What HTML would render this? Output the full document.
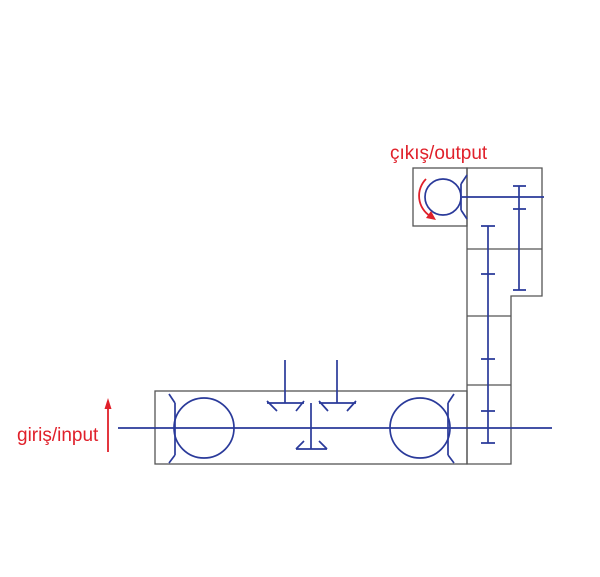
<!DOCTYPE html>
<html><head><style>body{margin:0;background:#fff}svg{display:block}</style></head><body>
<svg width="600" height="577" xmlns="http://www.w3.org/2000/svg">
<g fill="none" stroke="#555" stroke-width="1.3">
<rect x="155" y="391" width="312" height="73"/>
<rect x="413" y="168" width="54" height="58"/>
<path d="M467 168 H542 V296 H511 V464 H467 Z"/>
<path d="M467 249 H542 M467 316 H511 M467 385 H511"/>
</g>
<g fill="none" stroke="#2a3a9a" stroke-width="1.7">
<path d="M118 428 H552"/>
<circle cx="204" cy="428" r="30"/>
<path d="M175 403 V455 M175 403 L169 394 M175 455 L169 463"/>
<circle cx="420" cy="428" r="30"/>
<path d="M448 403 V455 M448 403 L454 394 M448 455 L454 463"/>
<path d="M285 360 V403 M337 360 V403 M267 403 H304 M319 403 H356"/>
<path d="M267 401 L277 411 M304 401 L296 411 M319 401 L328 411 M356 401 L347 411"/>
<path d="M311 403 V449 M296 449 H327 M296 449 L304 441 M327 449 L319 441"/>
<circle cx="443" cy="197" r="18"/>
<path d="M462 197 H544 M461 184 V210 M461 184 L467 175 M461 210 L467 219"/>
<path d="M519 186 V290 M513 186 H526 M513 209 H526 M513 290 H526"/>
<path d="M488 226 V443 M481 226 H495 M481 274 H495 M481 359 H495 M481 411 H495 M481 443 H495"/>
</g>
<g stroke="#e0202a" fill="none" stroke-width="1.8">
<path d="M426 179 A24 24 0 0 0 430 216"/>
<path d="M108 452 V406"/>
</g>
<polygon points="108,398 104.5,409 111.5,409" fill="#e0202a"/>
<polygon points="436,220 426,218 431,211" fill="#e0202a"/>
<g font-family="Liberation Sans, sans-serif" font-size="19" fill="#e0202a">
<text x="17" y="441">giriş/input</text>
<text x="390" y="159">çıkış/output</text>
</g>
</svg>
</body></html>
